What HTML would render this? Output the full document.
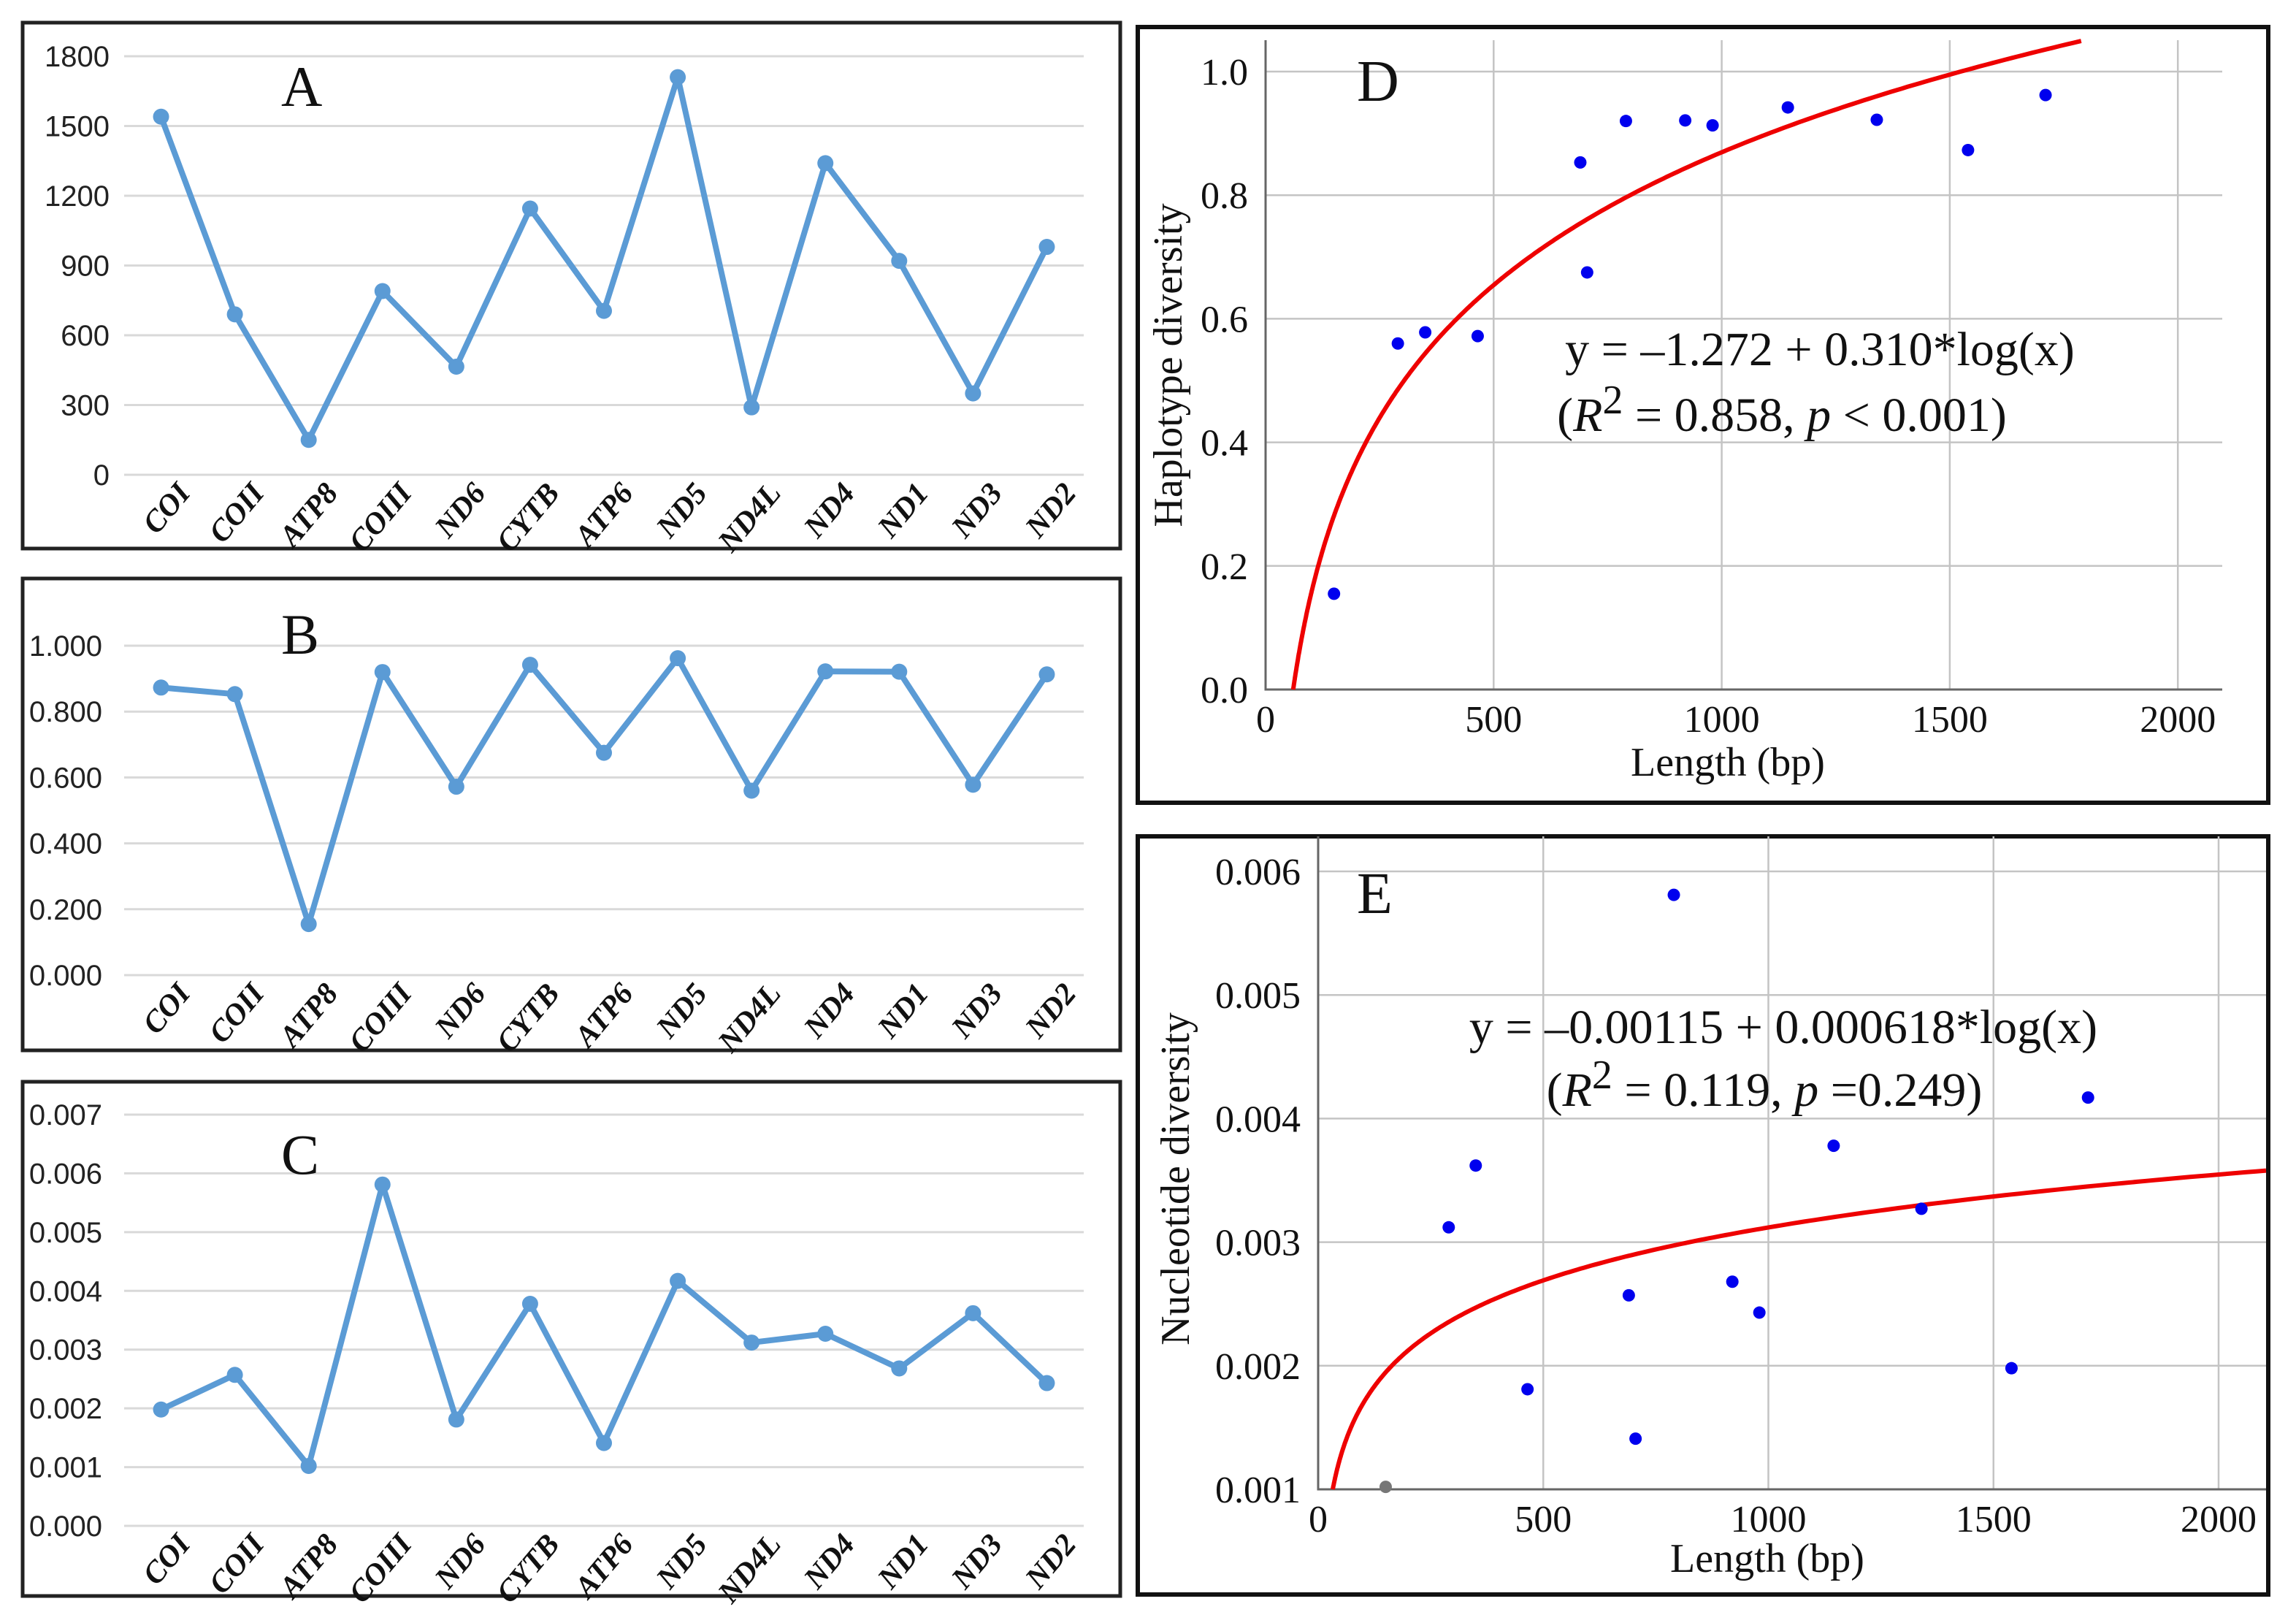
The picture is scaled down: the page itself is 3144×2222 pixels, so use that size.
<!DOCTYPE html>
<html><head><meta charset="utf-8"><style>
html,body{margin:0;padding:0;background:#fff;}
svg{display:block;}
.tk{font-family:"Liberation Sans",sans-serif;font-size:40px;fill:#222;}
.cat{font-family:"Liberation Serif",serif;font-size:42px;font-weight:bold;font-style:italic;fill:#111;}
.tm{font-family:"Liberation Serif",serif;fill:#111;}
</style></head><body>
<svg id="fig" width="3144" height="2222" viewBox="0 0 3144 2222" xmlns="http://www.w3.org/2000/svg"></svg>
<script>
const genes = ["COI","COII","ATP8","COIII","ND6","CYTB","ATP6","ND5","ND4L","ND4","ND1","ND3","ND2"];
const lengthVals = [1540,690,150,790,465,1145,705,1710,290,1340,920,350,980];
const hdVals = [0.873,0.853,0.155,0.920,0.572,0.942,0.675,0.962,0.560,0.922,0.921,0.578,0.913];
const piVals = [0.00198,0.00257,0.00102,0.00581,0.00181,0.00378,0.00141,0.00417,0.00312,0.00327,0.00268,0.00362,0.00243];
const ticksA = ["0","300","600","900","1200","1500","1800"];
const ticksB = ["0.000","0.200","0.400","0.600","0.800","1.000"];
const ticksC = ["0.000","0.001","0.002","0.003","0.004","0.005","0.006","0.007"];
const ticksDy = ["0.0","0.2","0.4","0.6","0.8","1.0"];
const ticksDx = ["0","500","1000","1500","2000"];
const ticksEy = ["0.001","0.002","0.003","0.004","0.005","0.006"];
const ticksEx = ["0","500","1000","1500","2000"];
const fitD = [-1.272, 0.310];
const fitE = [-0.00115, 0.000618];

const NS="http://www.w3.org/2000/svg";
const svg=document.getElementById('fig');
function mk(tag,attrs,parent){const e=document.createElementNS(NS,tag);for(const k in attrs)e.setAttribute(k,attrs[k]);(parent||svg).appendChild(e);return e;}
function txt(s,attrs,parent){const e=mk('text',attrs,parent);e.textContent=s;return e;}

function linePanel(id,box,yTop,yBot,maxV,ticks,vals,letter,letterPos,tickRight){
  const g=mk('g',{});
  
  
  const fr=mk('rect',{x:box[0],y:box[1],width:box[2]-box[0],height:box[3]-box[1],fill:'none',stroke:'#222','stroke-width':5},g);
  
  
  const x0=170,x1=1484,band=(x1-x0)/genes.length;
  const ys=v=>yBot-(v/maxV)*(yBot-yTop);
  const xs=i=>x0+band/2+i*band;
  ticks.forEach((t,i)=>{
    const v=maxV*i/(ticks.length-1);
    const gl=mk('line',{x1:x0,x2:x1,y1:ys(v),y2:ys(v),stroke:'#d9d9d9','stroke-width':3},g);
    
    
    const tl=txt(t,{class:'tk',x:tickRight,y:ys(v)+14,'text-anchor':'end'},g);
    
    
  });
  genes.forEach((n,i)=>{
    const cx=xs(i)+42, cy=yBot+26;
    const c=txt(n,{class:'cat',x:cx,y:cy,'text-anchor':'end',transform:`rotate(-50 ${cx} ${cy})`},g);
    
    
  });
  const pts=vals.map((v,i)=>xs(i)+','+ys(v)).join(' ');
  const pl=mk('polyline',{points:pts,fill:'none',stroke:'#5b9bd5','stroke-width':8,'stroke-linejoin':'round'},g);
  
  
  vals.forEach((v,i)=>{
    const p=mk('circle',{cx:xs(i),cy:ys(v),r:11,fill:'#5b9bd5'},g);
    
    
  });
  const L=txt(letter,{class:'tm',x:letterPos[0],y:letterPos[1],'font-size':78},g);
  
  
}
linePanel('a',[31,31,1534,751],77,650,1800,ticksA,lengthVals,'A',[385,145],150);
linePanel('b',[31,792,1534,1438],884,1335,1.0,ticksB,hdVals,'B',[385,895],140);
linePanel('c',[31,1481,1534,2185],1526,2089,0.007,ticksC,piVals,'C',[385,1607],140);

function scatterPanel(id,box,ax,yMin,yMax,yTicks,xTicks,yvals,fit,letter,letterPos,ylabel,ylabelPos,xlabelPos,eq1,eq1Pos,eq2,eq2Pos,gray){
  const g=mk('g',{});
  
  
  const fr=mk('rect',{x:box[0],y:box[1],width:box[2]-box[0],height:box[3]-box[1],fill:'none',stroke:'#111','stroke-width':6},g);
  
  
  const [xl,xr,yt,yb,pxPerUnit,yPx0,yPxMax]=ax;
  const xs=v=>xl+v*pxPerUnit;
  const ys=v=>yPx0-(v-yMin)/(yMax-yMin)*(yPx0-yPxMax);
  xTicks.forEach(t=>{
    const v=+t;
    if(v>0){const gl=mk('line',{x1:xs(v),x2:xs(v),y1:yt,y2:yb,stroke:'#c4c4c4','stroke-width':2.5},g);
      
      }
    const tl=txt(t,{class:'tm',x:xs(v),y:yb+58,'font-size':52,'text-anchor':'middle'},g);
    
    
  });
  yTicks.forEach(t=>{
    const v=+t;
    if(v>yMin){const gl=mk('line',{x1:xl,x2:xr,y1:ys(v),y2:ys(v),stroke:'#c4c4c4','stroke-width':2.5},g);
      
      }
    const tl=txt(t,{class:'tm',x:xl-24,y:ys(v)+18,'font-size':52,'text-anchor':'end'},g);
    
    
  });
  const axl=mk('path',{d:`M${xl} ${yt} V${yb} H${xr}`,fill:'none',stroke:'#666','stroke-width':3},g);
  
  
  let d='';
  const xStart=Math.exp((yMin-fit[0])/fit[1]);
  const xEnd=(xr-xl)/pxPerUnit;
  for(let k=0;k<=400;k++){
    const xv=xStart*Math.pow(xEnd/xStart,k/400);
    const yv=fit[0]+fit[1]*Math.log(xv);
    let py=ys(yv); if(py<yt){if(d)break; else continue;}
    d+=(d?'L':'M')+xs(xv).toFixed(1)+' '+py.toFixed(1);
  }
  const cv=mk('path',{d:d,fill:'none',stroke:'#ee0000','stroke-width':6},g);
  
  
  yvals.forEach((v,i)=>{
    const p=mk('circle',{cx:xs(lengthVals[i]),cy:ys(v),r:8.5,fill:(gray&&v<=yMin+0.00003)?'#777':'#0000ee'},g);
    
    
  });
  const L=txt(letter,{class:'tm',x:letterPos[0],y:letterPos[1],'font-size':80},g);
  
  
  const yl=txt(ylabel,{class:'tm',x:ylabelPos[0],y:ylabelPos[1],'font-size':56,'text-anchor':'middle',transform:`rotate(-90 ${ylabelPos[0]} ${ylabelPos[1]})`},g);
  
  
  const xlb=txt('Length (bp)',{class:'tm',x:xlabelPos[0],y:xlabelPos[1],'font-size':56,'text-anchor':'middle'},g);
  
  
  const e1=txt(eq1,{class:'tm',x:eq1Pos[0],y:eq1Pos[1],'font-size':66,'text-anchor':'middle'},g);
  
  
  const e2=mk('text',{class:'tm',x:eq2Pos[0],y:eq2Pos[1],'font-size':66,'text-anchor':'middle'},g);
  
  
  e2.innerHTML=eq2;
}
scatterPanel('d',[1558,37,3106,1099],[1733,3043,55,944,312.3/500,944,98],0,1.0,ticksDy,ticksDx,hdVals,fitD,'D',[1858,138],
  'Haplotype diversity',[1618,500],[2366,1062],
  'y = –1.272 + 0.310*log(x)',[2492,500],
  '(<tspan font-style="italic">R</tspan><tspan dy="-24" font-size="56">2</tspan><tspan dy="24"> = 0.858, </tspan><tspan font-style="italic">p</tspan> &lt; 0.001)',[2440,590],false);
scatterPanel('e',[1558,1145,3106,2183],[1805,3103,1145,2039,308.25/500,2039,1193],0.001,0.006,ticksEy,ticksEx,piVals,fitE,'E',[1858,1250],
  'Nucleotide diversity',[1628,1614],[2420,2152],
  'y = –0.00115 + 0.000618*log(x)',[2442,1428],
  '(<tspan font-style="italic">R</tspan><tspan dy="-24" font-size="56">2</tspan><tspan dy="24"> = 0.119, </tspan><tspan font-style="italic">p</tspan> =0.249)',[2416,1514],true);
</script>
</body></html>
